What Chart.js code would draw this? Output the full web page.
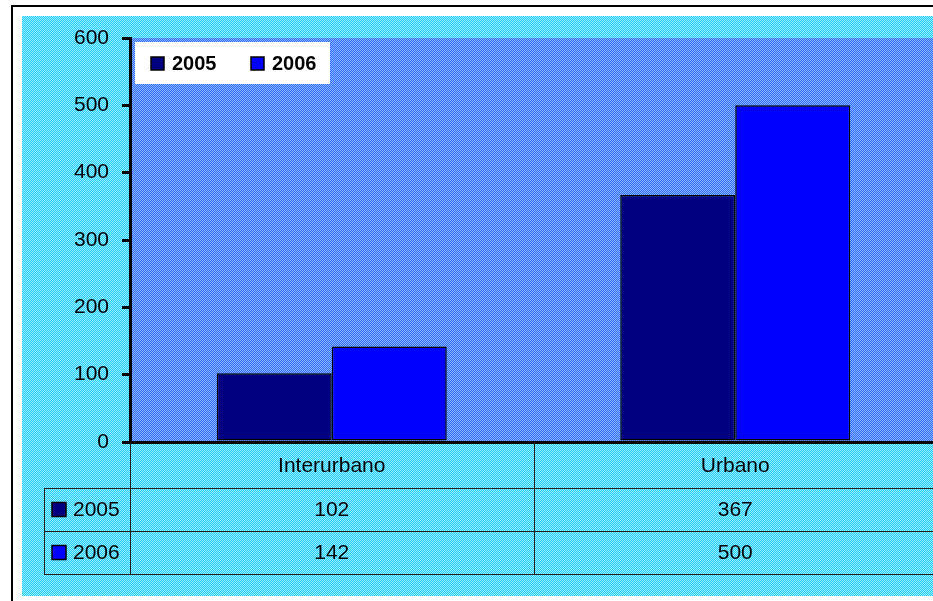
<!DOCTYPE html>
<html>
<head>
<meta charset="utf-8">
<script src="https://cdn.jsdelivr.net/npm/chart.js@4/dist/chart.umd.min.js"></script>
<style>
html,body{margin:0;padding:0;overflow:hidden;background:#fff;width:933px;height:601px}
#wrap{position:absolute;left:0;top:0;width:950px;height:601px}
</style>
</head>
<body>
<div id="wrap"><canvas id="c" width="950" height="601"></canvas></div>
<script>
const categories = ['Interurbano', 'Urbano'];
const seriesLabels = ['2005', '2006'];
const values2005 = [102, 367];
const values2006 = [142, 500];
const yMin = 0, yMax = 600, yStep = 100;

const FONT = "'Liberation Sans', Arial, sans-serif";
const colors = ['#000080', '#0000ff'];

function checker(c1, c2) {
  const o = document.createElement('canvas');
  o.width = 2; o.height = 2;
  const g = o.getContext('2d');
  g.fillStyle = c1; g.fillRect(0, 0, 2, 2);
  g.fillStyle = c2; g.fillRect(0, 0, 1, 1); g.fillRect(1, 1, 1, 1);
  return g;
}
const ctxMain = document.getElementById('c').getContext('2d');
const outerPattern = ctxMain.createPattern(checker('#22ccff', '#99eeff').canvas, 'repeat');
const plotPattern = ctxMain.createPattern(checker('#3366ff', '#88bbff').canvas, 'repeat');

const decor = {
  id: 'decor',
  beforeDraw(chart) {
    const ctx = chart.ctx, ca = chart.chartArea;
    ctx.save();
    ctx.fillStyle = '#fff';
    ctx.fillRect(0, 0, chart.width, chart.height);
    ctx.strokeStyle = '#000'; ctx.lineWidth = 2;
    ctx.strokeRect(12, 6, 1000, 1000);
    ctx.fillStyle = outerPattern;
    ctx.fillRect(22, 16, chart.width - 22, 580);
    ctx.fillStyle = plotPattern;
    ctx.fillRect(ca.left, ca.top, ca.right - ca.left, ca.bottom - ca.top);
    // legend box
    ctx.fillStyle = '#fff';
    ctx.fillRect(ca.left + 5, ca.top + 4, 195, 42);
    ctx.restore();
  },
  afterDraw(chart) {
    const ctx = chart.ctx, ca = chart.chartArea, xs = chart.scales.x;
    const ds = chart.data.datasets;
    ctx.save();
    // legend items
    ctx.font = 'bold 20px ' + FONT;
    ctx.textBaseline = 'middle';
    ctx.textAlign = 'left';
    const lx = [ca.left + 21, ca.left + 121];
    ds.forEach((d, i) => {
      ctx.fillStyle = d.backgroundColor;
      ctx.fillRect(lx[i], ca.top + 19, 13, 13);
      ctx.strokeStyle = '#000'; ctx.lineWidth = 1.5;
      ctx.strokeRect(lx[i], ca.top + 19, 13, 13);
      ctx.fillStyle = '#000';
      ctx.fillText(d.label, lx[i] + 21, ca.top + 26);
    });
    // data table
    const top = ca.bottom;
    const rows = [top, top + 46, top + 89, top + 132];
    const leftEdge = 44;
    ctx.strokeStyle = '#222'; ctx.lineWidth = 1;
    ctx.beginPath();
    for (let r = 1; r < rows.length; r++) {
      ctx.moveTo(leftEdge, rows[r] + 0.5); ctx.lineTo(ca.right, rows[r] + 0.5);
    }
    ctx.moveTo(leftEdge + 0.5, rows[1]); ctx.lineTo(leftEdge + 0.5, rows[3]);
    ctx.moveTo(ca.left + 0.5, top); ctx.lineTo(ca.left + 0.5, rows[3]);
    const catW = (ca.right - ca.left) / categories.length;
    for (let i = 1; i <= categories.length; i++) {
      const bx = Math.round(ca.left + catW * i) + 0.5;
      ctx.moveTo(bx, top); ctx.lineTo(bx, rows[3]);
    }
    ctx.stroke();
    ctx.font = '21px ' + FONT;
    ctx.fillStyle = '#000';
    ctx.textAlign = 'center';
    chart.data.labels.forEach((lab, i) => {
      const cx = xs.getPixelForValue(i);
      ctx.fillText(lab, cx, (rows[0] + rows[1]) / 2 + 1);
      ds.forEach((d, j) => {
        ctx.fillText(String(d.data[i]), cx, (rows[j + 1] + rows[j + 2]) / 2 + 1);
      });
    });
    ctx.textAlign = 'left';
    ds.forEach((d, j) => {
      const cy = (rows[j + 1] + rows[j + 2]) / 2;
      ctx.fillStyle = d.backgroundColor;
      ctx.fillRect(52, cy - 7, 14, 14);
      ctx.strokeStyle = '#000'; ctx.lineWidth = 1.5;
      ctx.strokeRect(52, cy - 7, 14, 14);
      ctx.fillStyle = '#000';
      ctx.fillText(d.label, 73, cy + 1);
    });
    ctx.restore();
  }
};

new Chart(document.getElementById('c'), {
  type: 'bar',
  data: {
    labels: categories,
    datasets: [
      { label: seriesLabels[0], data: values2005, backgroundColor: colors[0], borderColor: '#000', borderWidth: 1.5, borderSkipped: false },
      { label: seriesLabels[1], data: values2006, backgroundColor: colors[1], borderColor: '#000', borderWidth: 1.5, borderSkipped: false }
    ]
  },
  options: {
    responsive: false,
    animation: false,
    layout: { padding: { top: 38, bottom: 159, left: 0, right: 13 } },
    datasets: { bar: { categoryPercentage: 0.57, barPercentage: 1 } },
    plugins: { legend: { display: false }, tooltip: { enabled: false } },
    scales: {
      x: {
        ticks: { display: false },
        grid: { display: false },
        border: { color: '#000', width: 3 },
        afterFit(s) { s.height = 0; }
      },
      y: {
        min: yMin, max: yMax,
        ticks: { stepSize: yStep, color: '#000', font: { size: 21, family: FONT }, padding: 13 },
        grid: { drawOnChartArea: false, tickLength: 8, color: '#000', lineWidth: 3 },
        border: { color: '#000', width: 3 },
        afterFit(s) { s.width = 130; }
      }
    }
  },
  plugins: [decor]
});
</script>
</body>
</html>
